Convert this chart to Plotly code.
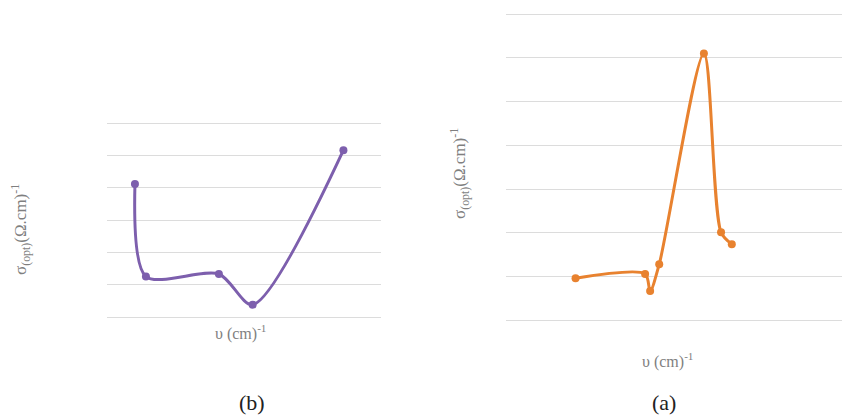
import plotly.graph_objects as go

# Panel (b): optical conductivity vs wavenumber (arbitrary plot units)
b_wavenumber = [1.03, 1.43, 4.09, 5.32, 8.63]
b_sigma = [4.12, 1.26, 1.34, 0.39, 5.17]

# Panel (a)
a_wavenumber = [2.07, 4.14, 4.29, 4.56, 5.89, 6.40, 6.72]
a_sigma = [0.96, 1.06, 0.67, 1.28, 6.10, 2.01, 1.74]

PURPLE = "#7d5fad"
ORANGE = "#e8822f"
GRID = "#dcdcdc"
TITLE_GRAY = "#7f7f7f"
FONT = "Liberation Serif"

W, H = 842, 415


def px_x(v):
    return v / W


def px_y(v):
    return 1 - v / H


fig = go.Figure()

fig.add_trace(go.Scatter(
    x=b_wavenumber, y=b_sigma, mode="lines+markers",
    line=dict(color=PURPLE, width=3, shape="spline", smoothing=0.8),
    marker=dict(color=PURPLE, size=8),
    xaxis="x", yaxis="y", showlegend=False, hoverinfo="skip",
))
fig.add_trace(go.Scatter(
    x=a_wavenumber, y=a_sigma, mode="lines+markers",
    line=dict(color=ORANGE, width=3, shape="spline", smoothing=0.8),
    marker=dict(color=ORANGE, size=8),
    xaxis="x2", yaxis="y2", showlegend=False, hoverinfo="skip",
))

pad = 0.25
# left panel: grid from y=317.3 (0) to 123.3 (6) px
b_step = (317.3 - 123.3) / 6
# right panel: grid from y=320.3 (0) to 14 (7) px
a_step = (320.3 - 14) / 7

common_x = dict(showgrid=False, zeroline=False, showticklabels=False,
                showline=False, ticks="")
common_y = dict(showgrid=True, gridcolor=GRID, gridwidth=1, zeroline=False,
                showticklabels=False, showline=False, ticks="", dtick=1)

fig.update_layout(
    width=W, height=H,
    margin=dict(l=0, r=0, t=0, b=0),
    paper_bgcolor="white", plot_bgcolor="white",
    xaxis=dict(domain=[px_x(106.7), px_x(381)], range=[0, 10], anchor="y", **common_x),
    yaxis=dict(domain=[px_y(317.3 + pad * b_step), px_y(123.3 - pad * b_step)],
               range=[-pad, 6 + pad], anchor="x", **common_y),
    xaxis2=dict(domain=[px_x(506), 1.0], range=[0, 10], anchor="y2", **common_x),
    yaxis2=dict(domain=[px_y(320.3 + pad * a_step), px_y(14 - pad * a_step)],
                range=[-pad, 7 + pad], anchor="x2", **common_y),
)

sigma_title = "σ<sub>(opt)</sub>(Ω.cm)<sup>-1</sup>"
nu_title = "υ (cm)<sup>-1</sup>"

annotations = [
    dict(text=sigma_title, x=px_x(20), y=px_y(230), textangle=-90,
         font=dict(size=17, color=TITLE_GRAY, family=FONT)),
    dict(text=sigma_title, x=px_x(459), y=px_y(174), textangle=-90,
         font=dict(size=17, color=TITLE_GRAY, family=FONT)),
    dict(text=nu_title, x=px_x(240), y=px_y(332),
         font=dict(size=16, color=TITLE_GRAY, family=FONT)),
    dict(text=nu_title, x=px_x(667), y=px_y(360),
         font=dict(size=16, color=TITLE_GRAY, family=FONT)),
    dict(text="(b)", x=px_x(252), y=px_y(402),
         font=dict(size=22, color="#222222", family=FONT)),
    dict(text="(a)", x=px_x(664), y=px_y(402),
         font=dict(size=22, color="#222222", family=FONT)),
]
for a in annotations:
    a.update(xref="paper", yref="paper", showarrow=False,
             xanchor="center", yanchor="middle")
fig.update_layout(annotations=annotations)

fig.write_html("out.html")
